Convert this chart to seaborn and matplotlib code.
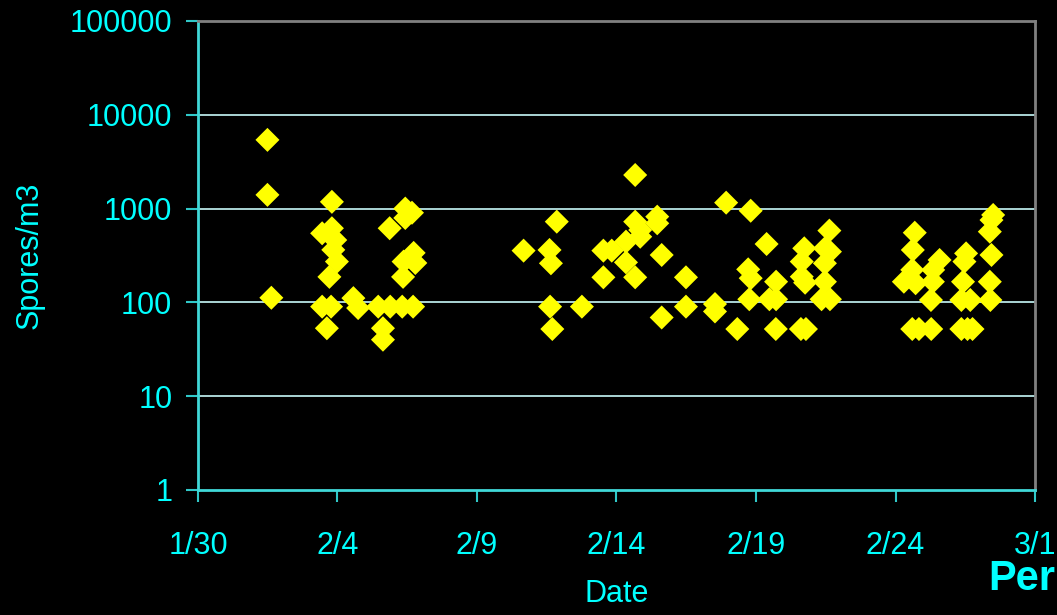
import matplotlib
matplotlib.use("Agg")
import matplotlib.pyplot as plt
import seaborn as sns
import pandas as pd
import numpy as np

# Day offsets from 1/30 (fractional days) and spore counts (spores/m3)
days = [2.49, 2.49, 2.63, 4.80, 4.45, 4.80, 4.92, 4.85, 4.98, 4.71, 4.45, 4.77, 4.62,
        5.57, 5.74, 6.46, 6.89, 7.32, 7.71, 6.63, 6.63, 6.87, 7.43, 7.67, 7.43, 7.37,
        7.73, 7.79, 7.35,
        11.67, 12.60, 12.65, 12.86, 12.62, 12.70, 13.76, 14.53, 14.53, 14.83, 15.34,
        15.34, 15.67, 15.67, 15.67, 15.85, 15.85, 16.46, 16.46, 16.62, 16.62, 17.49,
        17.49, 18.53, 18.53, 18.93, 19.81, 19.33, 20.38, 19.72, 19.81, 19.76, 20.48,
        20.72, 20.72, 20.71, 21.61, 21.79, 21.73, 21.64, 21.64, 21.76, 22.63, 22.47,
        22.65, 22.47, 22.47, 22.35, 22.65,
        25.69, 25.62, 25.60, 25.30, 25.72, 26.35, 26.58, 26.34, 26.27, 25.60, 25.84,
        26.28, 27.53, 27.47, 27.42, 27.36, 27.68, 27.36, 27.58, 27.76, 28.50, 28.44,
        28.38, 28.44, 28.38, 28.40]
spores = [5400, 1400, 112, 1180, 545, 617, 462, 363, 272, 187, 90, 90, 53,
          111, 87, 90, 90, 90, 90, 53, 40, 617, 1000, 903, 794, 272,
          337, 263, 187,
          356, 362, 261, 725, 90, 52, 90, 185, 356, 356, 444,
          267, 185, 2280, 725, 591, 501, 820, 697, 320, 69, 185,
          90, 96, 80, 1156, 948, 52, 419, 225, 181, 108, 108,
          166, 108, 52, 52, 52, 377, 272, 188, 162, 582, 377,
          347, 261, 166, 108, 108,
          553, 362, 222, 166, 160, 222, 283, 166, 106, 52, 52,
          52, 333, 272, 166, 106, 106, 52, 52, 52, 855, 755,
          567, 320, 166, 106]

tick_days = [0, 5, 10, 15, 20, 25, 30]
tick_labels = ["1/30", "2/4", "2/9", "2/14", "2/19", "2/24", "3/1"]
y_ticks = [1, 10, 100, 1000, 10000, 100000]
y_labels = ["1", "10", "100", "1000", "10000", "100000"]

df = pd.DataFrame({"day": days, "spores": spores})

sns.set_style("dark")
plt.rcParams['font.family'] = ['Liberation Sans', 'DejaVu Sans']

CYAN = "#00FFFF"
fig = plt.figure(figsize=(10.57, 6.15), dpi=100, facecolor="black")
ax = fig.add_axes([0.1873, 0.2033, 0.9792 - 0.1873, 0.9659 - 0.2033])
ax.set_facecolor("black")

ax.set_yscale("log")
ax.set_ylim(1, 100000)
ax.set_xlim(0, 30)

for yv in y_ticks[1:]:
    ax.axhline(yv, color="#B8E6E6", lw=1.3, zorder=1)

sns.scatterplot(data=df, x="day", y="spores", marker="D", s=150, color="#FFFF00",
                edgecolor="none", linewidth=0, ax=ax, zorder=3, legend=False)

ax.set_xticks(tick_days)
ax.set_xticklabels(tick_labels)
ax.set_yticks(y_ticks)
ax.set_yticklabels(y_labels)
ax.minorticks_off()
ax.tick_params(axis="both", colors="#30C8C8", labelcolor=CYAN, labelsize=22,
               length=8.5, width=1.5, direction="out", bottom=True, left=True)
ax.tick_params(axis="x", pad=21)
ax.tick_params(axis="y", pad=10)
ax.grid(False)

for side in ["left", "bottom"]:
    ax.spines[side].set_visible(True)
    ax.spines[side].set_color("#40D8D8")
    ax.spines[side].set_linewidth(2)
for side in ["top", "right"]:
    ax.spines[side].set_visible(True)
    ax.spines[side].set_color("#808080")
    ax.spines[side].set_linewidth(2)

ax.set_xlabel("Date", color=CYAN, fontsize=22, labelpad=13)
ax.set_ylabel("Spores/m3", color=CYAN, fontsize=22, labelpad=18)

fig.text(0.935, 0.04, "Per", color=CYAN, fontsize=30, fontweight="bold",
         ha="left", va="baseline")

fig.savefig("out.png", dpi=100, facecolor="black")
